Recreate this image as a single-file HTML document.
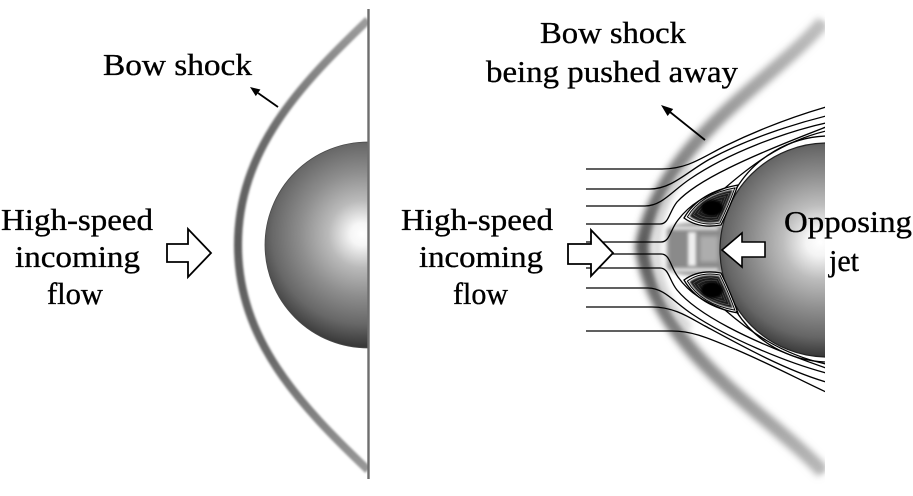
<!DOCTYPE html>
<html>
<head>
<meta charset="utf-8">
<style>
html,body{margin:0;padding:0;background:#fff;}
body{width:913px;height:496px;overflow:hidden;}
svg{display:block;}
text{font-family:"Liberation Serif","Times New Roman",Times,serif;font-size:31px;fill:#000;stroke:#000;stroke-width:0.35;}
</style>
</head>
<body>
<svg width="913" height="496" viewBox="0 0 913 496" xmlns="http://www.w3.org/2000/svg">
<defs>
  <filter id="b1" filterUnits="userSpaceOnUse" x="0" y="0" width="913" height="496"><feGaussianBlur stdDeviation="1"/></filter>
  <filter id="b15" filterUnits="userSpaceOnUse" x="0" y="0" width="913" height="496"><feGaussianBlur stdDeviation="1.5"/></filter>
  <filter id="b2" filterUnits="userSpaceOnUse" x="0" y="0" width="913" height="496"><feGaussianBlur stdDeviation="2.2"/></filter>
  <filter id="b4" filterUnits="userSpaceOnUse" x="0" y="0" width="913" height="496"><feGaussianBlur stdDeviation="3.5"/></filter>
  <linearGradient id="lsg" gradientUnits="userSpaceOnUse" x1="0" y1="20" x2="0" y2="470">
    <stop offset="0" stop-color="#9c9c9c"/>
    <stop offset="0.25" stop-color="#6c6c6c"/>
    <stop offset="0.5" stop-color="#5c5c5c"/>
    <stop offset="0.75" stop-color="#6a6a6a"/>
    <stop offset="1" stop-color="#989898"/>
  </linearGradient>
  <linearGradient id="rsg" gradientUnits="userSpaceOnUse" x1="0" y1="22" x2="0" y2="472">
    <stop offset="0" stop-color="#c0c0c0"/>
    <stop offset="0.3" stop-color="#888888"/>
    <stop offset="0.5" stop-color="#585858"/>
    <stop offset="0.7" stop-color="#848484"/>
    <stop offset="1" stop-color="#b8b8b8"/>
  </linearGradient>
  <radialGradient id="sph1" gradientUnits="userSpaceOnUse" cx="362" cy="234" r="112" fx="362" fy="234">
    <stop offset="0" stop-color="#ffffff"/>
    <stop offset="0.1" stop-color="#f6f6f6"/>
    <stop offset="0.3" stop-color="#bababa"/>
    <stop offset="0.55" stop-color="#8e8e8e"/>
    <stop offset="0.8" stop-color="#686868"/>
    <stop offset="1" stop-color="#383838"/>
  </radialGradient>
  <radialGradient id="sph2" gradientUnits="userSpaceOnUse" cx="820" cy="242" r="116" fx="820" fy="242">
    <stop offset="0" stop-color="#ffffff"/>
    <stop offset="0.12" stop-color="#f4f4f4"/>
    <stop offset="0.32" stop-color="#bdbdbd"/>
    <stop offset="0.58" stop-color="#8e8e8e"/>
    <stop offset="0.82" stop-color="#666666"/>
    <stop offset="1" stop-color="#333333"/>
  </radialGradient>
  <clipPath id="rclip"><rect x="0" y="0" width="825" height="496"/></clipPath>
  <clipPath id="lclip"><rect x="0" y="0" width="368" height="496"/></clipPath>
  <path id="vt" d="M684,218 Q699,192 738,185 Q730,207 721,225 Q699,229 684,218 Z"/>
  <g id="vortex">
    <use href="#vt" fill="#fff" stroke="#000" stroke-width="1.3"/>
    <use href="#vt" transform="translate(712,209) scale(0.88) translate(-712,-209)" fill="none" stroke="#000" stroke-width="1.1"/>
    <use href="#vt" transform="translate(712,209) scale(0.8) translate(-712,-209)" fill="#1a1a1a" filter="url(#b1)"/>
    <g fill="none" stroke="#888" stroke-width="0.6">
      <use href="#vt" transform="translate(712,209) scale(0.66) translate(-712,-209)"/>
      <use href="#vt" transform="translate(712,209) scale(0.52) translate(-712,-209)"/>
      <use href="#vt" transform="translate(712,209) scale(0.38) translate(-712,-209)"/>
    </g>
    <ellipse cx="712" cy="208" rx="11" ry="8" fill="#000" filter="url(#b1)"/>
  </g>
</defs>

<!-- ============ LEFT PANEL ============ -->
<path d="M368,20 C300,85 238,150 238,245 C238,340 300,405 368,470" fill="none" stroke="url(#lsg)" stroke-width="8" filter="url(#b1)" clip-path="url(#lclip)"/>
<path d="M368,142 A103,103 0 0 0 368,348 Z" fill="url(#sph1)" stroke="#4a4a4a" stroke-width="0.8"/>
<line x1="368.5" y1="9" x2="368.5" y2="479" stroke="#6e6e6e" stroke-width="2.4"/>

<text x="103" y="75" textLength="149" lengthAdjust="spacingAndGlyphs">Bow shock</text>
<line x1="278" y1="107" x2="258" y2="93" stroke="#000" stroke-width="1.8"/>
<polygon points="250,87 260.4,89.5 255.8,96.1" fill="#000"/>

<text x="1" y="230" textLength="152" lengthAdjust="spacingAndGlyphs">High-speed</text>
<text x="15" y="267" textLength="125" lengthAdjust="spacingAndGlyphs">incoming</text>
<text x="47" y="304" textLength="56" lengthAdjust="spacingAndGlyphs">flow</text>

<polygon points="167,244 188,244 188,229 211,253 188,277 188,262 167,262" fill="#fff" stroke="#000" stroke-width="1.8" stroke-linejoin="miter"/>

<!-- ============ RIGHT PANEL ============ -->
<g clip-path="url(#rclip)">
  <path d="M823,22 C775,80 660,140 642,247 C655,352 770,414 823,472" fill="none" stroke="url(#rsg)" stroke-width="14" filter="url(#b4)"/>
  <path d="M823,22 C775,80 660,140 642,247 C655,352 770,414 823,472" fill="none" stroke="url(#rsg)" stroke-width="5" opacity="0.6" filter="url(#b2)"/>
  <path d="M690,168 C668,190 658,215 657,248 C658,282 668,306 690,328" fill="none" stroke="#cfcfcf" stroke-width="6" filter="url(#b4)"/>

  <path d="M667,229 C682,221 703,222 724,226 L724,272 C703,277 682,277 667,269 Z" fill="#8a8a8a" filter="url(#b2)"/>
  <rect x="700" y="236" width="18" height="26" fill="#adadad" filter="url(#b2)"/>
  <rect x="688" y="232" width="8" height="34" fill="#f0f0f0" filter="url(#b15)"/>
  <rect x="672" y="226" width="46" height="4" fill="#e0e0e0" filter="url(#b15)"/>
  <rect x="672" y="268" width="46" height="4" fill="#e0e0e0" filter="url(#b15)"/>

  <circle cx="827" cy="250" r="107" fill="url(#sph2)" stroke="#222" stroke-width="1.2"/>

  <use href="#vortex"/>
  <use href="#vortex" transform="matrix(1,0,0,-1,0,498)"/>

  <g fill="none" stroke="#000" stroke-width="1.3">
    <path d="M586,169 L662,169 C688,169 703,157 725,146 C760,129 795,116 826,107"/>
    <path d="M586,189 L650,189 C672,189 688,171 710,159 C745,140 790,125 826,116"/>
    <path d="M586,206 L645,206 C662,206 672,191 690,179 C728,153 785,132 826,123"/>
    <path d="M586,224 L660,224 C669,224 669,212 677,202 C696,181 745,158 826,127"/>
    <path d="M586,242 L661,242 C670,242 670,230 678,220 C690,204 705,196 725,188 C748,168 780,142 826,131"/>
    <path d="M736,189 A110,110 0 0 1 826,136"/>

    <path d="M586,331 L672,331 C695,331 712,340 737,350 C772,365 800,380 826,392"/>
    <path d="M586,307 L652,307 C675,307 690,318 705,326 C740,345 785,370 826,382"/>
    <path d="M586,288 L648,288 C664,288 674,302 692,314 C728,338 785,362 826,373"/>
    <path d="M586,268 L660,268 C669,268 669,280 677,290 C696,313 745,340 826,368"/>
    <path d="M586,254 L661,254 C670,254 670,266 678,277 C690,294 705,302 725,310 C748,330 780,354 826,364"/>
    <path d="M736,311 A110,110 0 0 0 826,362"/>
  </g>

  <polygon points="722,250 742,233 742,242 765,242 765,257 742,257 742,267" fill="#fff" stroke="#000" stroke-width="1.6" stroke-linejoin="miter"/>
</g>

<polygon points="568,244 591,244 591,230 613,253 591,276 591,264 568,264" fill="#fff" stroke="#000" stroke-width="1.8" stroke-linejoin="miter"/>

<text x="540" y="43" textLength="146" lengthAdjust="spacingAndGlyphs">Bow shock</text>
<text x="486" y="82" textLength="252" lengthAdjust="spacingAndGlyphs">being pushed away</text>
<line x1="705" y1="140" x2="670" y2="112" stroke="#000" stroke-width="1.8"/>
<polygon points="661,105 673.2,109 667.6,116" fill="#000"/>

<text x="401" y="230" textLength="152" lengthAdjust="spacingAndGlyphs">High-speed</text>
<text x="419" y="267" textLength="124" lengthAdjust="spacingAndGlyphs">incoming</text>
<text x="453" y="304" textLength="55" lengthAdjust="spacingAndGlyphs">flow</text>

<text x="784" y="232" textLength="128" lengthAdjust="spacingAndGlyphs">Opposing</text>
<text x="829" y="271" textLength="30" lengthAdjust="spacingAndGlyphs">jet</text>
</svg>
</body>
</html>
